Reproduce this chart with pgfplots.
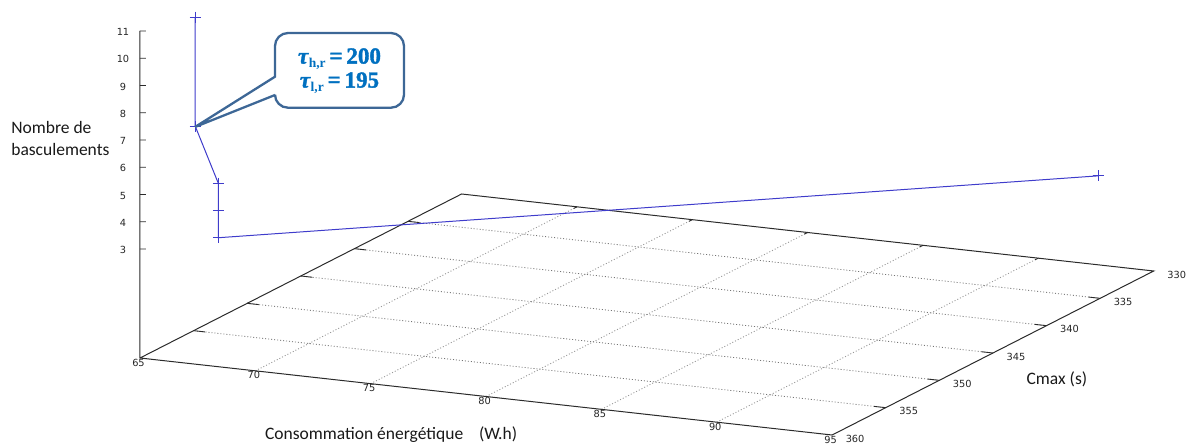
\documentclass[border=0pt]{standalone}
\usepackage{fontspec}
\usepackage{pgfplots}
\pgfplotsset{compat=1.18}
\setmainfont{Carlito}
\newfontfamily\tickfont{DejaVu Sans}
\newfontfamily\calloutfont{Liberation Serif}[BoldFeatures={FakeBold=1.6},BoldItalicFeatures={FakeBold=1.6}]
\newfontfamily\subfont{Liberation Serif}
\definecolor{curve}{HTML}{3F3CCB}
\definecolor{frame}{HTML}{2B2B2B}
\definecolor{callout}{HTML}{3D6796}
\definecolor{callouttext}{HTML}{0070C0}
\begin{document}
\begin{tikzpicture}[x=1pt,y=1pt]
\useasboundingbox (0,0) rectangle (1187,-445);
\begin{axis}[
  at={(140pt,-435pt)}, anchor=south west,
  x={(23.07pt,-2.567pt)}, y={(-10.72pt,-5.467pt)}, z={(0pt,27.25pt)},
  xmin=65, xmax=95, ymin=330, ymax=360, zmin=-1, zmax=11,
  xtick={65,70,...,95}, ytick={330,335,...,360}, ztick={3,4,...,11},
  clip=false,
  axis line style={draw=none},
  major tick length=0pt,
  tick style={draw=none},
  unbounded coords=jump,
  /pgf/number format/assume math mode=true,
  tick label style={font=\tickfont\fontsize{9.8}{9.8}\selectfont,text=black!85},
  x tick label style={anchor=center,xshift=-1.5pt,yshift=-4.5pt},
  y tick label style={anchor=center,xshift=23pt,yshift=-3.5pt},
  z tick label style={anchor=center,xshift=-17pt,yshift=-1pt},
  every axis x label/.style={at={(axis cs:79.25,367.24,-1)},anchor=center},
  every axis y label/.style={at={(axis cs:99.09,347.83,-1)},anchor=center},
  every axis z label/.style={at={(axis cs:61.55,360,6.73)},anchor=center,align=left},
  label style={font=\fontsize{17.5}{22}\selectfont,text=black!90},
  xlabel={Consommation énergétique\ \ \ \ (W.h)},
  ylabel={Cmax (s)},
  zlabel={Nombre de\\basculements},
]
% dotted grid on the floor
\addplot3[black!40,dash pattern=on 1pt off 2pt,line width=0.9pt,forget plot] coordinates {
 (70,360,-1) (70,330,-1) (nan,nan,nan)
 (75,360,-1) (75,330,-1) (nan,nan,nan)
 (80,360,-1) (80,330,-1) (nan,nan,nan)
 (85,360,-1) (85,330,-1) (nan,nan,nan)
 (90,360,-1) (90,330,-1)};
\addplot3[black!55,dash pattern=on 1pt off 2pt,line width=0.8pt,forget plot] coordinates {
 (65,335,-1) (95,335,-1) (nan,nan,nan)
 (65,340,-1) (95,340,-1) (nan,nan,nan)
 (65,345,-1) (95,345,-1) (nan,nan,nan)
 (65,350,-1) (95,350,-1) (nan,nan,nan)
 (65,355,-1) (95,355,-1)};
% tick marks: y on both edges of the floor, x on the far edge, z on the vertical axis
\addplot3[frame,line width=0.9pt,forget plot] coordinates {
 (65,335,-1) (65.5,335,-1) (nan,nan,nan)
 (65,340,-1) (65.5,340,-1) (nan,nan,nan)
 (65,345,-1) (65.5,345,-1) (nan,nan,nan)
 (65,350,-1) (65.5,350,-1) (nan,nan,nan)
 (65,355,-1) (65.5,355,-1) (nan,nan,nan)
 (95,335,-1) (94.5,335,-1) (nan,nan,nan)
 (95,340,-1) (94.5,340,-1) (nan,nan,nan)
 (95,345,-1) (94.5,345,-1) (nan,nan,nan)
 (95,350,-1) (94.5,350,-1) (nan,nan,nan)
 (95,355,-1) (94.5,355,-1) (nan,nan,nan)
 (70,330,-1) (70,330.3,-1) (nan,nan,nan)
 (75,330,-1) (75,330.3,-1) (nan,nan,nan)
 (80,330,-1) (80,330.3,-1) (nan,nan,nan)
 (85,330,-1) (85,330.3,-1) (nan,nan,nan)
 (90,330,-1) (90,330.3,-1) (nan,nan,nan)
 (65,360,3) (65.2135,359.9,3) (nan,nan,nan)
 (65,360,4) (65.2135,359.9,4) (nan,nan,nan)
 (65,360,5) (65.2135,359.9,5) (nan,nan,nan)
 (65,360,6) (65.2135,359.9,6) (nan,nan,nan)
 (65,360,7) (65.2135,359.9,7) (nan,nan,nan)
 (65,360,8) (65.2135,359.9,8) (nan,nan,nan)
 (65,360,9) (65.2135,359.9,9) (nan,nan,nan)
 (65,360,10) (65.2135,359.9,10) (nan,nan,nan)
 (65,360,11) (65.2135,359.9,11)};
% frame
\addplot3[frame,line width=1pt,forget plot] coordinates {(65,360,11) (65,360,-1) (95,360,-1) (95,330,-1) (65,330,-1) (65,360,-1)};
% the curve
\addplot3[curve,line width=1pt,mark=+,mark size=5.5pt,mark options={line width=0.8pt,solid}] coordinates {
 (66,357,11) (66,357,7) (67,357,5) (67,357,4) (67,357,3) (94,333,3)};
\end{axis}
% callout
\draw[callout,line width=2.3pt,fill=white,line join=miter]
  (195,-127) -- (275,-76.7)
  -- (275,-46) arc[start angle=180,end angle=90,radius=13]
  -- (391,-33) arc[start angle=90,end angle=0,radius=13]
  -- (404,-94.7) arc[start angle=0,end angle=-90,radius=13]
  -- (288,-107.7) arc[start angle=-90,end angle=-180,radius=13]
  -- (275,-95) -- cycle;
\node[text=callouttext,font=\calloutfont\bfseries\fontsize{23}{23}\selectfont,anchor=center] at (339.5,-59)
  {\textit{τ}\raisebox{-4pt}{\subfont\bfseries\fontsize{13.5}{13.5}\selectfont h,r}\,=\,200};
\node[text=callouttext,font=\calloutfont\bfseries\fontsize{23}{23}\selectfont,anchor=center] at (339.5,-83)
  {\textit{τ}\raisebox{-4pt}{\subfont\bfseries\fontsize{13.5}{13.5}\selectfont l,r}\,=\,195};
\end{tikzpicture}
\end{document}
